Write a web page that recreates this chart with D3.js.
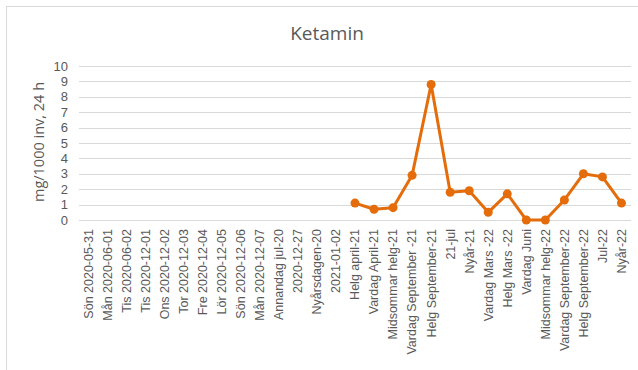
<!DOCTYPE html>
<html>
<head>
<meta charset="utf-8">
<script src="https://cdn.jsdelivr.net/npm/d3@7"></script>
<style>
  html, body { margin: 0; padding: 0; background: #fff; }
  svg { display: block; font-family: "Open Sans", "Liberation Sans", sans-serif; }
</style>
</head>
<body>
<svg id="chart" width="638" height="370"></svg>
<script>
// Sampling occasions (category axis)
const categories = [
  "Sön 2020-05-31", "Mån 2020-06-01", "Tis 2020-06-02", "Tis 2020-12-01",
  "Ons 2020-12-02", "Tor 2020-12-03", "Fre 2020-12-04", "Lör 2020-12-05",
  "Sön 2020-12-06", "Mån 2020-12-07", "Annandag jul-20", "2020-12-27",
  "Nyårsdagen-20", "2021-01-02", "Helg april-21", "Vardag April-21",
  "Midsommar helg-21", "Vardag September -21", "Helg September-21", "21-jul",
  "Nyår-21", "Vardag Mars -22", "Helg Mars -22", "Vardag Juni",
  "Midsommar helg-22", "Vardag September-22", "Helg September-22", "Jul-22",
  "Nyår-22"
];
// Ketamine load, mg/1000 inhabitants per 24 h (null = no measurement)
const values = [
  null, null, null, null, null, null, null, null, null, null, null, null,
  null, null, 1.1, 0.7, 0.8, 2.9, 8.8, 1.8, 1.9, 0.5, 1.7, 0.0, 0.0, 1.3,
  3.0, 2.8, 1.1
];
const yTicks = [0, 1, 2, 3, 4, 5, 6, 7, 8, 9, 10];

const svg = d3.select("#chart");
const textColor = "#595959";
const lineColor = "#E46C0A";

// Outer chart frame
svg.append("rect")
  .attr("x", 6.5).attr("y", 6.5)
  .attr("width", 640).attr("height", 380)
  .attr("fill", "#fff").attr("stroke", "#d9d9d9").attr("stroke-width", 1);

const plot = { left: 79, right: 631, top: 66, bottom: 220 };

const x = d3.scaleBand()
  .domain(categories)
  .range([plot.left, plot.right]);

const y = d3.scaleLinear()
  .domain([0, 10])
  .range([plot.bottom, plot.top]);

// Horizontal gridlines
svg.append("g")
  .selectAll("line")
  .data(yTicks)
  .join("line")
  .attr("x1", plot.left).attr("x2", plot.right)
  .attr("y1", d => Math.round(y(d)) + 0.5)
  .attr("y2", d => Math.round(y(d)) + 0.5)
  .attr("stroke", "#d9d9d9").attr("stroke-width", 1);

// Y axis labels
const yAxis = svg.append("g")
  .attr("transform", `translate(${plot.left - 11},0)`)
  .call(d3.axisLeft(y).tickValues(yTicks).tickSize(0).tickPadding(0));
yAxis.select(".domain").remove();
yAxis.selectAll("text")
  .attr("fill", textColor)
  .style("font-size", "13px");

// X axis labels, rotated
const xAxis = svg.append("g")
  .attr("transform", `translate(0,${plot.bottom})`)
  .call(d3.axisBottom(x).tickSize(0).tickPadding(0));
xAxis.select(".domain").remove();
xAxis.selectAll("text")
  .attr("fill", textColor)
  .style("font-size", "12.5px")
  .attr("text-anchor", "end")
  .attr("dy", "0.35em")
  .attr("transform", "translate(0,9) rotate(-90)")
  .attr("x", 0).attr("y", 0);

// Y axis title
svg.append("text")
  .attr("transform", `translate(44,${(plot.top + plot.bottom) / 2 - 1}) rotate(-90)`)
  .attr("text-anchor", "middle")
  .attr("fill", textColor)
  .style("font-size", "14.5px")
  .text("mg/1000 inv, 24 h");

// Title
svg.append("text")
  .attr("x", 327).attr("y", 40)
  .attr("text-anchor", "middle")
  .attr("fill", textColor)
  .style("font-size", "19px")
  .text("Ketamin");

// Series line and markers
const pts = categories.map((c, i) => ({ c, v: values[i] })).filter(d => d.v !== null);
const cx = d => x(d.c) + x.bandwidth() / 2;

svg.append("path")
  .datum(pts)
  .attr("fill", "none")
  .attr("stroke", lineColor)
  .attr("stroke-width", 3)
  .attr("stroke-linejoin", "round")
  .attr("d", d3.line().x(cx).y(d => y(d.v)));

svg.append("g")
  .selectAll("circle")
  .data(pts)
  .join("circle")
  .attr("cx", cx)
  .attr("cy", d => y(d.v))
  .attr("r", 4.5)
  .attr("fill", lineColor);
</script>
</body>
</html>
